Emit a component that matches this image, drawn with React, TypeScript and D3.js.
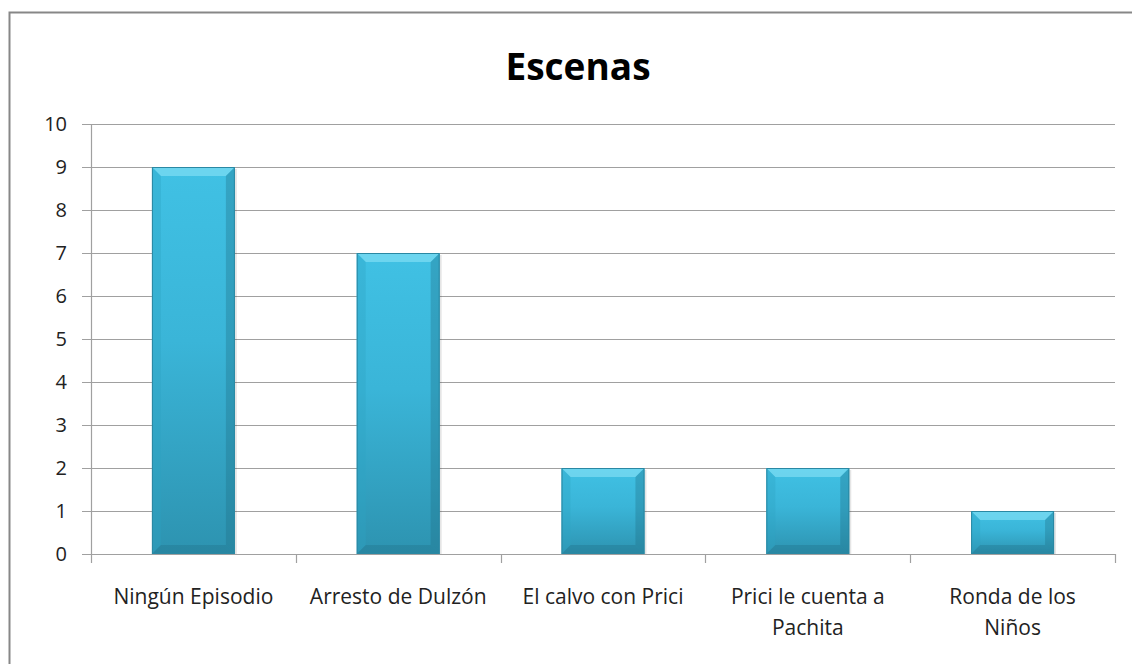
import { useRef, useEffect } from "react";
import * as d3 from "d3";

const WIDTH = 1132;
const HEIGHT = 664;

const TOP = 124;
const BOTTOM = 554;
const LEFT = 91;
const RIGHT = 1115;

const TITLE = "Escenas";
const CATEGORIES = [
  "Ningún Episodio",
  "Arresto de Dulzón",
  "El calvo con Prici",
  "Prici le cuenta a|Pachita",
  "Ronda de los|Niños",
];
const VALUES = [9, 7, 2, 2, 1];
const Y_TICKS = [0, 1, 2, 3, 4, 5, 6, 7, 8, 9, 10];

const FONT = "Open Sans, Noto Sans, sans-serif";

export default function App() {
  const svgRef = useRef<SVGSVGElement>(null);

  useEffect(() => {
    const svg = d3.select(svgRef.current);
    svg.selectAll("*").remove();

    const x = d3.scaleBand<number>()
      .domain(d3.range(CATEGORIES.length))
      .range([LEFT, RIGHT])
      .padding(0);
    const y = d3.scaleLinear([0, 10], [BOTTOM, TOP]);

    const defs = svg.append("defs");
    const grad = defs.append("linearGradient")
      .attr("id", "barGrad")
      .attr("x1", 0).attr("y1", 0).attr("x2", 0).attr("y2", 1);
    grad.append("stop").attr("offset", "0%").attr("stop-color", "#40c1e4");
    grad.append("stop").attr("offset", "45%").attr("stop-color", "#3ab5d8");
    grad.append("stop").attr("offset", "100%").attr("stop-color", "#2d93b0");

    // outer frame
    svg.append("rect")
      .attr("x", 9.5).attr("y", 12.5)
      .attr("width", WIDTH + 20).attr("height", HEIGHT + 20)
      .attr("fill", "none")
      .attr("stroke", "#878787")
      .attr("stroke-width", 2);

    // title
    svg.append("text")
      .attr("x", 578).attr("y", 80)
      .attr("text-anchor", "middle")
      .attr("font-family", FONT)
      .attr("font-weight", "bold")
      .attr("font-size", 37)
      .attr("fill", "#000")
      .text(TITLE);

    // gridlines
    svg.append("g")
      .selectAll("line")
      .data(Y_TICKS)
      .join("line")
      .attr("x1", LEFT - 9).attr("x2", RIGHT)
      .attr("y1", d => Math.round(y(d)) + 0.5)
      .attr("y2", d => Math.round(y(d)) + 0.5)
      .attr("stroke", "#a0a0a0")
      .attr("stroke-width", 1.2);

    // y labels
    svg.append("g")
      .selectAll("text")
      .data(Y_TICKS)
      .join("text")
      .attr("x", 67)
      .attr("y", d => y(d))
      .attr("dy", "0.36em")
      .attr("text-anchor", "end")
      .attr("font-family", FONT)
      .attr("font-size", 20)
      .attr("fill", "#222")
      .text(d => d);

    // y axis line
    svg.append("line")
      .attr("x1", LEFT + 0.5).attr("x2", LEFT + 0.5)
      .attr("y1", TOP).attr("y2", BOTTOM)
      .attr("stroke", "#a0a0a0").attr("stroke-width", 1.2);

    // x ticks
    const bounds = d3.range(CATEGORIES.length + 1).map(i => LEFT + i * x.step());
    svg.append("g")
      .selectAll("line")
      .data(bounds)
      .join("line")
      .attr("x1", d => Math.round(d) + 0.5).attr("x2", d => Math.round(d) + 0.5)
      .attr("y1", BOTTOM).attr("y2", BOTTOM + 9)
      .attr("stroke", "#a0a0a0").attr("stroke-width", 1.2);

    // bars
    const bw = x.bandwidth() * 0.405;
    const bev = 9;
    const bars = svg.append("g")
      .selectAll("g")
      .data(VALUES)
      .join("g")
      .attr("transform", (_d, i) => `translate(${x(i)! + (x.bandwidth() - bw) / 2},0)`);

    // shadow
    bars.append("rect")
      .attr("x", 2).attr("y", d => y(d) + 2)
      .attr("width", bw).attr("height", d => BOTTOM - y(d) - 2)
      .attr("fill", "#000").attr("opacity", 0.1);

    bars.append("rect")
      .attr("x", 0).attr("y", d => y(d))
      .attr("width", bw).attr("height", d => BOTTOM - y(d))
      .attr("fill", "url(#barGrad)");

    // top bevel
    bars.append("path")
      .attr("d", d => {
        const t = y(d);
        return `M0,${t}L${bw},${t}L${bw - bev},${t + bev}L${bev},${t + bev}Z`;
      })
      .attr("fill", "#8ae2f6").attr("opacity", 0.6);
    // left bevel
    bars.append("path")
      .attr("d", d => {
        const t = y(d);
        return `M0,${t}L${bev},${t + bev}L${bev},${BOTTOM - bev}L0,${BOTTOM}Z`;
      })
      .attr("fill", "#2fa2c4").attr("opacity", 0.35);
    // right bevel
    bars.append("path")
      .attr("d", d => {
        const t = y(d);
        return `M${bw},${t}L${bw - bev},${t + bev}L${bw - bev},${BOTTOM - bev}L${bw},${BOTTOM}Z`;
      })
      .attr("fill", "#1f6f88").attr("opacity", 0.35);
    // bottom bevel
    bars.append("path")
      .attr("d", () => `M0,${BOTTOM}L${bev},${BOTTOM - bev}L${bw - bev},${BOTTOM - bev}L${bw},${BOTTOM}Z`)
      .attr("fill", "#1d6a82").attr("opacity", 0.3);
    // edge outline
    bars.append("rect")
      .attr("x", 0.5).attr("y", d => y(d) + 0.5)
      .attr("width", bw - 1).attr("height", d => BOTTOM - y(d) - 1)
      .attr("fill", "none")
      .attr("stroke", "#2a88a3").attr("stroke-width", 1);

    // x-axis line on top of bars
    svg.append("line")
      .attr("x1", LEFT).attr("x2", RIGHT)
      .attr("y1", BOTTOM + 0.5).attr("y2", BOTTOM + 0.5)
      .attr("stroke", "#a0a0a0").attr("stroke-width", 1.2);

    // category labels
    const labels = svg.append("g")
      .selectAll("text")
      .data(CATEGORIES)
      .join("text")
      .attr("text-anchor", "middle")
      .attr("font-family", FONT)
      .attr("font-size", 21)
      .attr("fill", "#222")
      .attr("transform", (_d, i) => `translate(${x(i)! + x.bandwidth() / 2},604)`);
    labels.selectAll("tspan")
      .data(d => d.split("|"))
      .join("tspan")
      .attr("x", 0)
      .attr("y", (_d, j) => j * 31)
      .text(d => d);
  }, []);

  return (
    <svg
      ref={svgRef}
      width={WIDTH}
      height={HEIGHT}
      style={{ position: "absolute", left: 0, top: 0, background: "#fff" }}
    />
  );
}
